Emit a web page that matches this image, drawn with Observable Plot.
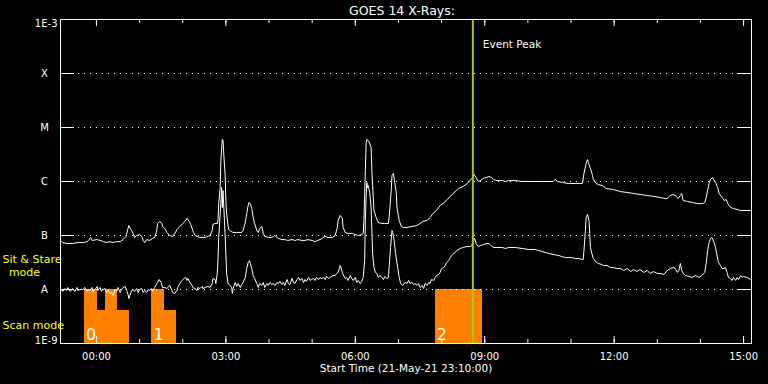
<!DOCTYPE html>
<html>
<head>
<meta charset="utf-8">
<script src="https://cdn.jsdelivr.net/npm/d3@7"></script>
<script src="https://cdn.jsdelivr.net/npm/@observablehq/plot@0.6"></script>
<style>
  html, body { margin: 0; padding: 0; background: #000; }
  #chart { width: 768px; height: 384px; overflow: hidden; }
</style>
</head>
<body>
<div id="chart"></div>
<script>
// ---- data (minutes after start time, flux in W/m^2) ----
const startTime = "2021-05-21T23:10:00Z";
const endMinute = 961;

// GOES 14 long channel (1-8 Å): [minute, flux]
const longChannel = [
  [0,8.1e-8],[3,7.4e-8],[9,7.1e-8],[13,7.1e-8],[18,7.1e-8],[23,7.4e-8],[27,7.4e-8],[32,7.4e-8],[37,7.7e-8],[39,8.1e-8],
  [42,9.2e-8],[44,8.1e-8],[51,8.4e-8],[55,8.1e-8],[60,7.7e-8],[64,7.4e-8],[69,7.7e-8],[73,7.4e-8],[78,7.7e-8],[83,7.7e-8],
  [87,8.4e-8],[91,9.6e-8],[94,1.35e-7],[95,1.53e-7],[98,1.29e-7],[101,1.09e-7],[103,9.2e-8],[106,1.0e-7],[110,1.04e-7],[113,9.6e-8],
  [115,8.1e-8],[117,7.4e-8],[120,8.4e-8],[124,8.1e-8],[128,8.8e-8],[131,9.2e-8],[134,1.24e-7],[135,1.67e-7],[138,1.82e-7],[141,1.67e-7],
  [142,1.47e-7],[145,1.35e-7],[148,1.14e-7],[152,1.0e-7],[156,9.6e-8],[159,1.09e-7],[162,1.29e-7],[166,1.47e-7],[170,1.67e-7],[173,1.82e-7],
  [176,2.07e-7],[179,1.82e-7],[181,1.6e-7],[184,1.24e-7],[187,1.0e-7],[190,9.6e-8],[194,9.2e-8],[197,9.2e-8],[201,9.2e-8],[205,9.6e-8],
  [208,1.0e-7],[211,1.24e-7],[212,1.6e-7],[215,1.67e-7],[218,1.67e-7],[219,1.9e-7],[220,3.9e-7],[222,7.7e-7],[223,2.45e-6],[225,6.0e-6],
  [226,5.8e-6],[227,3.3e-6],[229,1.29e-6],[230,4.45e-7],[231,2.55e-7],[233,1.53e-7],[234,1.29e-7],[237,1.19e-7],[240,1.14e-7],[245,1.14e-7],
  [252,1.14e-7],[254,1.24e-7],[257,1.74e-7],[259,2.55e-7],[261,3.6e-7],[262,4.1e-7],[264,3.9e-7],[266,3.16e-7],[268,2.15e-7],[270,1.67e-7],
  [273,1.24e-7],[275,1.14e-7],[277,1.35e-7],[280,1.47e-7],[282,1.09e-7],[284,9.6e-8],[289,9.2e-8],[294,9.2e-8],[296,9.6e-8],[298,1.0e-7],
  [301,9.2e-8],[303,8.8e-8],[308,8.4e-8],[312,8.4e-8],[316,8.1e-8],[322,8.4e-8],[326,8.1e-8],[330,8.4e-8],[336,8.1e-8],[340,8.1e-8],
  [344,8.4e-8],[350,8.1e-8],[354,7.7e-8],[358,8.1e-8],[364,8.8e-8],[365,9.2e-8],[368,9.6e-8],[372,9.2e-8],[378,9.2e-8],[382,1.0e-7],
  [385,1.41e-7],[386,1.9e-7],[389,2.35e-7],[392,2.07e-7],[393,1.41e-7],[396,1.14e-7],[400,1.09e-7],[406,1.09e-7],[410,1.04e-7],[414,1.0e-7],
  [419,1.04e-7],[421,1.09e-7],[422,1.9e-7],[424,1.6e-6],[425,5.05e-6],[426,6.0e-6],[429,5.5e-6],[432,4.26e-6],[433,1.6e-6],[435,5.05e-7],
  [436,2.9e-7],[439,2.15e-7],[442,1.74e-7],[447,1.67e-7],[451,1.67e-7],[456,1.67e-7],[457,2.15e-7],[460,6.8e-7],[461,1.29e-6],[463,1.41e-6],
  [464,1.14e-6],[467,6.26e-7],[468,3.3e-7],[471,1.9e-7],[474,1.47e-7],[477,1.41e-7],[482,1.41e-7],[489,1.47e-7],[496,1.53e-7],[500,1.67e-7],
  [504,1.82e-7],[510,1.9e-7],[514,2.15e-7],[518,2.55e-7],[524,3.03e-7],[528,3.6e-7],[532,3.9e-7],[538,4.64e-7],[542,5.3e-7],[546,6.0e-7],
  [552,7.1e-7],[556,7.7e-7],[560,8.1e-7],[566,9.2e-7],[568,1.0e-6],[571,1.09e-6],[574,1.24e-6],[575,1.35e-6],[578,1.19e-6],[581,1.0e-6],
  [584,1.04e-6],[588,1.14e-6],[593,1.19e-6],[596,1.24e-6],[599,1.19e-6],[602,1.09e-6],[607,1.04e-6],[614,1.04e-6],[619,1.0e-6],[623,1.04e-6],
  [632,1.04e-6],[642,1.0e-6],[651,1.0e-6],[660,1.0e-6],[670,1.0e-6],[678,1.0e-6],[685,1.0e-6],[688,1.09e-6],[691,1.0e-6],[698,9.6e-7],
  [706,9.2e-7],[716,9.2e-7],[726,9.2e-7],[728,1.41e-6],[731,2.15e-6],[733,2.55e-6],[734,2.25e-6],[737,1.74e-6],[740,1.29e-6],[741,1.09e-6],
  [745,9.2e-7],[748,8.8e-7],[754,8.4e-7],[759,7.4e-7],[769,7.1e-7],[779,6.5e-7],[788,6.26e-7],[797,6.0e-7],[806,5.75e-7],[816,5.5e-7],
  [825,5.3e-7],[834,5.05e-7],[841,4.84e-7],[844,4.84e-7],[845,5.05e-7],[848,5.5e-7],[852,5.75e-7],[855,5.5e-7],[858,5.05e-7],[859,4.84e-7],
  [862,5.5e-7],[864,6.0e-7],[865,5.05e-7],[866,4.45e-7],[872,4.26e-7],[879,4.08e-7],[886,3.9e-7],[893,3.9e-7],[896,4.08e-7],[898,5.05e-7],
  [900,6.8e-7],[902,9.2e-7],[904,1.09e-6],[907,1.19e-6],[908,1.09e-6],[911,9.6e-7],[914,7.7e-7],[916,6.0e-7],[921,4.84e-7],[923,4.45e-7],
  [926,4.64e-7],[928,3.9e-7],[932,3.3e-7],[936,3.16e-7],[941,3.03e-7],[946,2.9e-7],[960,2.9e-7]
];

// GOES 14 short channel (0.5-4 Å): [minute, flux]
const shortChannel = [
  [0,9.6e-9],[2,1.0e-8],[3,9.2e-9],[6,1.04e-8],[9,9.6e-9],[10,1.09e-8],[13,9.2e-9],[16,1.0e-8],[17,1.04e-8],[20,9.2e-9],
  [23,1.09e-8],[24,9.6e-9],[27,1.0e-8],[31,1.0e-8],[34,1.09e-8],[37,9.2e-9],[38,1.0e-8],[41,9.6e-9],[44,1.09e-8],[45,9.2e-9],
  [48,1.0e-8],[51,1.14e-8],[52,9.6e-9],[55,1.09e-8],[57,9.2e-9],[59,1.0e-8],[62,1.04e-8],[64,8.8e-9],[66,9.6e-9],[69,8.4e-9],
  [71,8.8e-9],[73,7.7e-9],[76,1.0e-8],[78,9.2e-9],[80,1.09e-8],[83,8.8e-9],[85,1.0e-8],[87,1.09e-8],[90,1.14e-8],[92,9.6e-9],
  [94,8.1e-9],[95,6.8e-9],[98,8.8e-9],[99,9.6e-9],[101,1.0e-8],[103,9.2e-9],[106,1.04e-8],[108,8.8e-9],[110,1.0e-8],[113,1.04e-8],
  [115,8.8e-9],[117,9.6e-9],[120,8.8e-9],[122,1.0e-8],[124,9.6e-9],[127,1.04e-8],[128,9.2e-9],[131,1.09e-8],[134,1.29e-8],[135,1.35e-8],
  [137,1.53e-8],[140,1.35e-8],[141,1.19e-8],[142,1.09e-8],[145,1.09e-8],[148,1.04e-8],[149,1.09e-8],[152,1.19e-8],[155,9.6e-9],[156,8.8e-9],
  [159,8.4e-9],[162,9.6e-9],[163,1.09e-8],[166,1.29e-8],[169,1.47e-8],[172,1.6e-8],[174,1.67e-8],[176,1.47e-8],[177,1.6e-8],[180,1.35e-8],
  [183,1.19e-8],[184,1.09e-8],[187,1.04e-8],[190,9.6e-9],[191,1.09e-8],[194,1.04e-8],[197,1.14e-8],[198,1.04e-8],[201,1.09e-8],[205,1.14e-8],
  [208,1.09e-8],[211,1.29e-8],[212,1.6e-8],[215,1.53e-8],[216,1.29e-8],[218,1.98e-8],[219,3.44e-8],[220,9.2e-8],[222,2.55e-7],[223,3.9e-7],
  [224,7.7e-7],[225,3.3e-7],[226,6.8e-7],[228,1.9e-7],[230,4.64e-8],[231,1.98e-8],[233,1.29e-8],[236,1.19e-8],[238,1.09e-8],[239,8.4e-9],
  [240,1.04e-8],[243,1.35e-8],[245,1.14e-8],[247,1.29e-8],[250,1.09e-8],[252,1.24e-8],[254,1.35e-8],[257,1.67e-8],[259,2.45e-8],[261,3.16e-8],
  [263,3.44e-8],[264,3.03e-8],[266,2.45e-8],[268,1.82e-8],[270,1.6e-8],[273,1.29e-8],[275,1.09e-8],[277,1.29e-8],[280,1.19e-8],[282,1.35e-8],
  [284,1.09e-8],[287,1.29e-8],[289,1.19e-8],[291,1.35e-8],[294,1.24e-8],[296,1.29e-8],[298,1.19e-8],[301,1.35e-8],[303,1.29e-8],[305,1.41e-8],
  [308,1.24e-8],[310,1.35e-8],[312,1.19e-8],[315,1.53e-8],[317,1.29e-8],[319,1.24e-8],[322,1.6e-8],[324,1.35e-8],[326,1.29e-8],[329,1.53e-8],
  [331,1.67e-8],[333,1.47e-8],[336,1.6e-8],[338,1.35e-8],[340,1.53e-8],[342,1.41e-8],[345,1.67e-8],[347,1.47e-8],[349,1.53e-8],[352,1.6e-8],
  [354,1.47e-8],[356,1.67e-8],[359,1.53e-8],[361,1.67e-8],[363,1.6e-8],[366,1.67e-8],[368,1.53e-8],[370,1.74e-8],[373,1.6e-8],[375,1.67e-8],
  [379,1.82e-8],[382,1.82e-8],[384,1.98e-8],[386,2.07e-8],[389,2.78e-8],[390,2.55e-8],[392,2.07e-8],[393,1.9e-8],[396,1.6e-8],[398,1.67e-8],
  [400,1.47e-8],[403,1.82e-8],[405,1.6e-8],[407,1.47e-8],[410,1.67e-8],[412,1.35e-8],[414,1.47e-8],[417,1.29e-8],[419,1.41e-8],[421,1.67e-8],
  [423,3.44e-8],[424,1.9e-7],[425,5.05e-7],[426,9.6e-7],[427,7.7e-7],[428,8.4e-7],[430,6.26e-7],[432,3.3e-7],[433,1.24e-7],[434,4.64e-8],
  [436,2.55e-8],[438,2.07e-8],[440,1.98e-8],[442,1.67e-8],[444,1.82e-8],[447,1.67e-8],[449,1.53e-8],[451,1.74e-8],[454,1.6e-8],[456,1.67e-8],
  [457,2.55e-8],[459,6.0e-8],[461,1.24e-7],[462,1.14e-7],[464,8.1e-8],[466,4.64e-8],[469,2.55e-8],[471,1.67e-8],[473,1.29e-8],[476,1.19e-8],
  [479,1.35e-8],[482,1.29e-8],[484,1.47e-8],[486,1.29e-8],[489,1.35e-8],[491,1.24e-8],[493,1.29e-8],[496,1.19e-8],[498,1.29e-8],[500,1.09e-8],
  [503,1.19e-8],[505,1.04e-8],[507,1.29e-8],[510,1.19e-8],[512,1.35e-8],[514,1.29e-8],[516,1.53e-8],[519,1.47e-8],[521,1.67e-8],[523,1.82e-8],
  [526,1.9e-8],[528,2.07e-8],[530,2.45e-8],[533,2.55e-8],[535,2.78e-8],[537,3.16e-8],[540,3.44e-8],[542,3.9e-8],[544,4.26e-8],[547,4.64e-8],
  [549,4.84e-8],[551,5.3e-8],[556,5.75e-8],[560,6.0e-8],[565,6.26e-8],[570,6.26e-8],[572,6.5e-8],[574,8.1e-8],[576,8.8e-8],[578,7.1e-8],
  [581,6.26e-8],[584,6.5e-8],[588,6.8e-8],[593,7.1e-8],[596,7.1e-8],[599,6.5e-8],[602,6.0e-8],[607,6.0e-8],[614,6.0e-8],[619,5.75e-8],
  [623,6.0e-8],[632,6.0e-8],[642,5.75e-8],[651,5.5e-8],[660,5.5e-8],[670,5.05e-8],[679,4.64e-8],[686,4.45e-8],[693,4.26e-8],[697,4.08e-8],
  [702,3.9e-8],[707,3.9e-8],[711,3.9e-8],[716,3.75e-8],[721,3.75e-8],[725,3.6e-8],[727,3.6e-8],[728,5.3e-8],[730,1.24e-7],[731,2.15e-7],
  [733,2.45e-7],[735,1.9e-7],[736,1.09e-7],[737,6.0e-8],[739,4.64e-8],[741,3.75e-8],[744,3.3e-8],[746,3.16e-8],[748,3.03e-8],[753,2.9e-8],
  [755,2.78e-8],[760,2.78e-8],[765,2.55e-8],[769,2.55e-8],[774,2.45e-8],[779,2.45e-8],[783,2.25e-8],[788,2.45e-8],[793,2.15e-8],[797,2.35e-8],
  [802,2.15e-8],[806,2.35e-8],[811,2.07e-8],[816,2.25e-8],[820,1.98e-8],[825,2.15e-8],[830,1.98e-8],[834,1.98e-8],[839,1.9e-8],[844,2.25e-8],
  [848,2.45e-8],[852,2.55e-8],[855,2.45e-8],[858,2.07e-8],[860,2.25e-8],[862,3.03e-8],[864,2.25e-8],[866,1.98e-8],[869,1.82e-8],[874,1.74e-8],
  [878,1.67e-8],[883,1.82e-8],[888,1.67e-8],[892,1.82e-8],[896,2.07e-8],[898,3.03e-8],[900,5.3e-8],[902,7.4e-8],[904,8.8e-8],[906,9.2e-8],
  [909,7.4e-8],[911,6.0e-8],[913,4.26e-8],[915,3.16e-8],[918,2.78e-8],[920,2.45e-8],[922,2.45e-8],[925,2.55e-8],[927,2.07e-8],[929,1.67e-8],
  [932,1.6e-8],[934,1.47e-8],[936,1.67e-8],[939,1.47e-8],[941,1.67e-8],[943,1.53e-8],[946,1.82e-8],[948,1.67e-8],[950,1.74e-8],[955,1.67e-8],
  [960,1.53e-8]
];

// Scan-mode blocks (minutes after start) and their top level
const scanStartMinutes = [34, 50, 63, 79, 128, 144, 522];
const scanEndMinutes   = [50, 63, 79, 95, 144, 160, 586];
const scanTopFlux      = [1e-8, 4.1e-9, 1e-8, 4.1e-9, 1e-8, 4.1e-9, 1e-8];
const scanLabelMinutes = [34, 128, 522];
const scanLabels       = ["0", "1", "2"];

const eventPeakMinute = 573.5;

const levelFlux   = [1e-3, 1e-4, 1e-5, 1e-6, 1e-7, 1e-8, 1e-9];
const levelLabels = ["1E-3", "X", "M", "C", "B", "A", "1E-9"];
const classFlux   = [1e-4, 1e-5, 1e-6, 1e-7, 1e-8];

const titleText  = "GOES 14 X-Rays:";
const xLabelText = "Start Time (21-May-21 23:10:00)";
const eventText  = "Event Peak";

// ---- build ----
const t0 = Date.parse(startTime);
const toDate = m => new Date(t0 + m * 60000);
const longData  = longChannel.map(([m, f]) => ({time: toDate(m), flux: f}));
const shortData = shortChannel.map(([m, f]) => ({time: toDate(m), flux: f}));
const scanData = scanStartMinutes.map((s, i) => ({
  start: toDate(s), end: toDate(scanEndMinutes[i]), bottom: 1e-9, top: scanTopFlux[i]
}));
const scanLabelData = scanLabelMinutes.map((m, i) => ({time: toDate(m), label: scanLabels[i]}));
const eventTime = toDate(eventPeakMinute);
const xDomain = [toDate(0), toDate(endMinute)];
const majorTicks = d3.utcHour.every(3).range(xDomain[0], xDomain[1]);
const minorTicks = d3.utcHour.range(xDomain[0], xDomain[1]);
const levelName = d => levelLabels[levelFlux.indexOf(d)];

const W = 768, H = 384, mL = 60, mR = 17, mT = 19, mB = 41;
const fw = W - mL - mR, fh = H - mT - mB;

const chart = Plot.plot({
  width: W, height: H,
  marginLeft: mL, marginRight: mR, marginTop: mT, marginBottom: mB,
  style: {background: "#000", color: "#fff", fontFamily: "'DejaVu Sans', sans-serif", fontSize: "10px", overflow: "visible"},
  x: {type: "utc", domain: xDomain},
  y: {type: "log", domain: [1e-9, 1e-3]},
  marks: [
    Plot.rect(scanData, {x1: "start", x2: "end", y1: "bottom", y2: "top", fill: "#ff8000",
      insetLeft: -0.6, insetRight: -0.6, shapeRendering: "crispEdges"}),
    Plot.ruleY(classFlux, {stroke: "#fff", strokeDasharray: "1,5"}),
    Plot.line(shortData, {x: "time", y: "flux", stroke: "#fff", strokeWidth: 1}),
    Plot.line(longData, {x: "time", y: "flux", stroke: "#fff", strokeWidth: 1}),
    Plot.ruleY(classFlux, {stroke: "#fff", insetRight: fw - 14}),
    Plot.ruleY(classFlux, {stroke: "#fff", insetLeft: fw - 14}),
    Plot.ruleX(minorTicks, {stroke: "#fff", insetTop: fh - 4}),
    Plot.ruleX(majorTicks, {stroke: "#fff", insetTop: fh - 7}),
    Plot.ruleX(minorTicks, {stroke: "#fff", insetBottom: fh - 4}),
    Plot.ruleX(majorTicks, {stroke: "#fff", insetBottom: fh - 7}),
    Plot.ruleX([eventTime], {stroke: "#9acd1e", strokeWidth: 2}),
    Plot.frame({stroke: "#fff"}),
    Plot.axisX(majorTicks, {tickSize: 0, tickPadding: 9, tickFormat: d3.utcFormat("%H:%M"), label: null}),
    Plot.axisY([1e-3], {tickSize: 0, tickPadding: 3, dy: 4, tickFormat: levelName, label: null}),
    Plot.axisY([1e-9], {tickSize: 0, tickPadding: 3, dy: -3, tickFormat: levelName, label: null}),
    Plot.axisY(classFlux, {tickSize: 0, tickPadding: 16, textAnchor: "middle", tickFormat: levelName, label: null}),
    Plot.text(scanLabelData, {x: "time", text: "label", frameAnchor: "bottom", dy: -4, dx: 1,
      textAnchor: "start", lineAnchor: "bottom", fill: "#fff", fontSize: 16}),
    Plot.text([eventTime], {x: d => d, text: () => eventText, frameAnchor: "top", dy: 28, dx: 10,
      textAnchor: "start", lineAnchor: "bottom", fill: "#fff", fontSize: 10.5}),
    Plot.text([titleText], {text: d => d, frameAnchor: "top", dy: -5, dx: -4, lineAnchor: "bottom", fill: "#fff", fontSize: 12.5}),
    Plot.text([xLabelText], {text: d => d, frameAnchor: "bottom", dy: 28, lineAnchor: "bottom", fill: "#fff", fontSize: 10.5}),
    Plot.text(["Sit & Stare"], {text: d => d, frameAnchor: "top-left", dx: -58, dy: 243, textAnchor: "start", lineAnchor: "bottom", fill: "#ffff00", fontSize: 11}),
    Plot.text(["mode"], {text: d => d, frameAnchor: "top-left", dx: -36, dy: 256, textAnchor: "middle", lineAnchor: "bottom", fill: "#ffff00", fontSize: 11}),
    Plot.text(["Scan mode"], {text: d => d, frameAnchor: "top-left", dx: -58, dy: 309, textAnchor: "start", lineAnchor: "bottom", fill: "#ffff00", fontSize: 11})
  ]
});
document.getElementById("chart").appendChild(chart);
</script>
</body>
</html>
